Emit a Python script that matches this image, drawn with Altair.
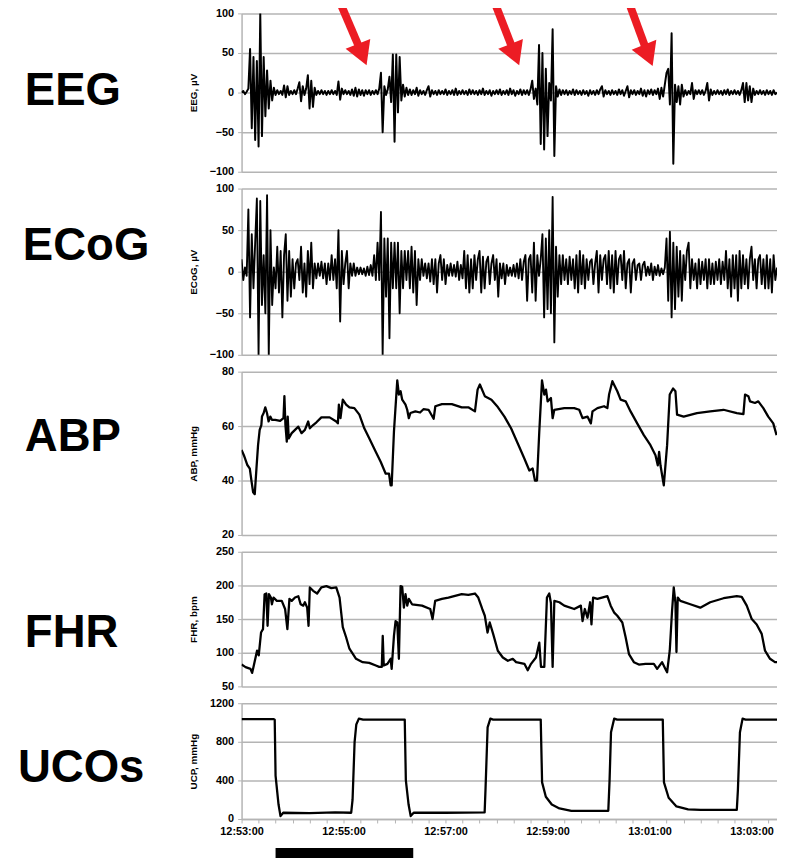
import altair as alt
import pandas as pd

# ---------------- data ----------------
# time axis: seconds after 12:53:00
X_DOMAIN = [0, 630]
STEP = 2  # EEG / ECoG read at 2-second intervals

eeg_values = [
    0, 2, -2, 1, 5, 55, -45, 45, -60, 40,
    -68, 100, -55, 45, -30, 28, -20, 15, -10, 6,
    -3, 3, -2, 2, -3, 9, -6, 8, -3, 2,
    -2, 3, -2, 5, 13, -11, 8, -3, 5, 22,
    -20, 15, -18, 6, -3, 2, -2, 3, -2, 2,
    -3, 2, -2, 3, -2, 2, -3, 14, -9, 5,
    -2, 3, -2, 2, -3, 4, -4, 6, -5, 4,
    -3, 3, -4, 3, -2, 3, -3, 2, -2, 3,
    -2, 5, 25, -50, 8, -3, 4, 20, -12, 48,
    -62, 48, -25, 45, -10, 10, -5, 6, -3, 4,
    -3, 3, -2, 6, -4, 3, -2, 2, -3, 3,
    8, -5, 3, -2, 2, -3, 3, -2, 2, -2,
    4, -3, 2, -2, 3, -3, 5, -3, 2, -2,
    3, -2, 2, -3, 4, -2, 3, -2, 2, -3,
    3, -2, 5, -3, 2, -2, 3, -4, 2, -2,
    3, -2, 4, -3, 2, -2, 3, -3, 5, -2,
    3, -4, 2, -2, 4, -3, 3, -2, 3, -3,
    4, 15, -8, 5, -15, 60, -65, 50, -72, 30,
    -55, 12, -10, 80, -80, 8, -5, 4, -3, 3,
    -2, 3, -3, 2, -2, 4, -3, 3, -2, 2,
    -3, 3, -2, 2, -4, 3, -2, 2, -3, 3,
    -2, 4, 8, -5, 3, -2, 2, -3, 3, -2,
    2, -3, 4, -2, 3, -4, 2, 8, -6, 3,
    -2, 3, -3, 2, -2, 5, -4, 3, -5, 3,
    -2, 4, -3, 3, -2, 5, -8, 6, -5, 10,
    25, 30, -15, 75, -90, 10, -12, 8, -15, 10,
    -5, 3, -3, 2, -2, 12, -8, 3, -2, 3,
    -2, 3, -3, 2, 12, -10, 4, -3, 2, -2,
    3, -2, 2, -3, 3, -2, 4, -3, 2, -2,
    3, -2, 2, -3, 3, 12, -12, 12, -10, 8,
    -12, 5, -3, 2, -2, 3, -2, 2, -3, 3,
    -2, 2, -3, 3, -2, 0,
]

ecog_values = [
    15, -10, 5, -5, 75, -55, 45, -20, 35, 88,
    -100, 85, -40, 20, -50, 92, -100, 50, -40, 5,
    -20, 30, -25, 25, -55, 20, 45, -35, 25, -30,
    15, -20, 10, 15, -10, 30, -25, 10, -30, 25,
    -15, 35, -20, 10, -8, 10, -5, 12, -8, 10,
    -15, 10, -10, 20, -10, 15, -20, 50, -60, 25,
    -15, 10, 25, -20, 10, -5, 10, -5, 5, -3,
    5, -3, 4, -5, 6, -4, 8, -5, 20, -10,
    35, -10, 72, -100, 40, -30, 40, -80, 35, -20,
    35, -20, 35, -50, 25, -20, 25, -10, 25, -20,
    30, -25, 25, -40, 15, -10, 15, -5, 10, -8,
    10, -12, 15, -15, 15, -25, 10, 20, -10, 15,
    -15, 8, -5, 10, -5, 8, -6, 12, -10, 8,
    -8, 25, -20, 20, -25, 15, -20, 20, -10, 15,
    25, -25, 18, -20, 12, 18, -15, 10, 20, -10,
    15, -30, 10, -8, 10, -15, 8, -5, 5, -5,
    8, -6, 10, -8, 15, -10, 12, 20, -35, 15,
    20, -25, 35, -35, 20, -5, 15, 45, -55, 40,
    -45, 50, -50, 90, -85, 30, -30, 20, -15, 20,
    -10, 15, -15, 18, -10, 15, -20, 20, -25, 25,
    -15, 20, -20, 15, -10, 12, 15, -15, 10, 25,
    -25, 20, -10, 15, 20, -15, 25, -20, 20, -25,
    25, -15, 15, 20, -10, 25, -20, 10, 15, -25,
    10, 15, -10, 8, 10, -10, 8, 12, -5, 6,
    -4, 10, -10, 6, -4, 8, -5, 4, -3, 5,
    40, -35, 48, -55, 35, -45, 30, -30, 25, -35,
    20, -10, 25, 35, -20, 15, -10, 10, -20, 15,
    -15, 12, -10, 15, -20, 15, -15, 10, -15, 12,
    -10, 15, -15, 12, -10, 25, -20, 15, -30, 20,
    -20, 20, -35, 25, -20, 20, -15, 15, -20, 15,
    30, -10, 15, -20, 15, 20, -15, 15, -20, 20,
    -20, 15, -25, 20, -10, 5,
]

abp_points = [
    (0, 51.2), (2.7, 49.3), (6.6, 45.8), (9.7, 44.4), (11.6, 40), (13.6, 35.7), (15.5, 35),
    (17.5, 44.4), (19.4, 53), (21.3, 58.6), (23.3, 60.4), (24, 63.5), (26, 64.8), (27.9, 66.9),
    (29.9, 64.8), (31.8, 61.7), (33.8, 63.5), (35.7, 62.3), (39.6, 62.3), (45.4, 61.9),
    (49.3, 62.9), (50.4, 71), (51.6, 60.4), (53.2, 54.3), (54.3, 63.5), (55.5, 55.5), (59, 57.4),
    (62.9, 58.6), (66.8, 59.8), (70.6, 57.4), (74.5, 58.6), (78.4, 61.7), (80.3, 59.2),
    (84.2, 60.4), (88.1, 61.4), (93.9, 63.2), (103.6, 63.2), (111.4, 61.7), (113.3, 61),
    (114.5, 67.9), (116.4, 62.9), (119.1, 69.7), (123, 67.9), (126.9, 66.9), (132.7, 66.6),
    (138.6, 64.2), (144.4, 59.2), (150.2, 55.5), (158, 50.5), (163.8, 46.8), (169.6, 42.5),
    (173.5, 42.5), (175.4, 38.2), (176.6, 38.2), (179.3, 58), (183.2, 76.8), (185.1, 71.6),
    (187.1, 72.8), (189, 69.7), (192.9, 67.9), (194.9, 66), (196.8, 62.9), (198.7, 64.8),
    (204.5, 65.4), (210, 65.0), (214, 66.2), (220, 66), (226, 62.7), (228, 67.3), (235.7, 68.1),
    (247.4, 68.1), (259, 66.9), (266.8, 66.9), (274.6, 65.4), (277.7, 73.4), (280.4, 75.3),
    (286.2, 71), (294, 69.7), (301.5, 67), (309.3, 63.5), (317.1, 59.2), (325, 53.6),
    (332.7, 48.1), (338.6, 43.7), (342.5, 44.4), (345.2, 40), (347.6, 40), (350.3, 58),
    (353.5, 76.8), (356.2, 71.6), (358.2, 73.4), (360.1, 69.1), (364, 70.3), (366, 62.9),
    (368, 66), (379.7, 66.6), (391.4, 66.6), (397.3, 66), (401.2, 62.9), (407, 63.5), (411, 61),
    (412.9, 65.4), (418.7, 66.6), (426.5, 67.3), (430.4, 66.6), (432.4, 71.6), (436.3, 76.5),
    (442.1, 72.8), (446, 69.7), (451.9, 69.1), (457.7, 65.4), (465.5, 61), (473.3, 56.7),
    (481.1, 53), (487, 49.3), (489.7, 45.6), (491.3, 50.5), (492.9, 45.6), (496.8, 38.2),
    (500.7, 53), (503.8, 71.6), (507.7, 73.8), (510.5, 72.8), (512.4, 64.2), (520.2, 63.5),
    (535.8, 64.8), (551.4, 65.4), (567.1, 66), (582.7, 64.8), (590.5, 64.4), (592.4, 71.6),
    (596.3, 71), (598.3, 69.1), (604.1, 68.5), (608, 69.1), (613.9, 66.6), (619.7, 63.5),
    (625.6, 61), (629.5, 56.7),
]

fhr_points = [
    (0, 82.5), (4.7, 78.6), (10.5, 76), (12.4, 70), (14.4, 81), (18.2, 103), (20.2, 96),
    (22.9, 130), (25.2, 135), (27.1, 187), (29.1, 188), (30.6, 140), (32.2, 187), (34.5, 182),
    (35.7, 172), (37.6, 182), (41.5, 177), (47.3, 177), (51.2, 165), (53.9, 135), (56.3, 180),
    (59, 177), (62.9, 182), (66.8, 184), (69.5, 172), (72.6, 170), (74.5, 175), (77.2, 167),
    (78.8, 140), (80.3, 197), (84.2, 192), (88.9, 188), (93.9, 197), (99.8, 199), (105.6, 196),
    (111.4, 197), (115.3, 182), (119.1, 138), (123, 123), (126.9, 106), (134.7, 91),
    (142.5, 86), (150.2, 85), (158, 81), (161.9, 79), (165, 79), (166.1, 125), (167.3, 81),
    (171.6, 83.5), (175.4, 91), (176.6, 76), (179.3, 125), (181.2, 147), (183.2, 145),
    (185.1, 91), (187.1, 199), (189, 198), (191, 167), (192.9, 187), (194.9, 170), (196.8, 180),
    (200.6, 172), (212.3, 170), (222, 165), (224.7, 150), (227.8, 177), (235.7, 180),
    (243.4, 182), (259, 187), (266.8, 186), (274.6, 188), (278.5, 182), (283.2, 165),
    (286.2, 155), (289.4, 130), (292, 145), (296, 128), (301.5, 103), (307.4, 93), (313.3, 88),
    (319.1, 91), (323, 86), (332.8, 83.5), (336.7, 74), (340.6, 83.5), (346.4, 93),
    (350.3, 115), (352.3, 79), (356.2, 79), (359.3, 182), (362, 188), (364, 174), (366, 79),
    (368, 177), (373.9, 175), (379.7, 170), (391.4, 165), (399.2, 170), (401.2, 147),
    (403.9, 165), (407, 152), (410.1, 175), (411.7, 142), (413.6, 182), (418.7, 180),
    (430.4, 184), (434.3, 170), (438.2, 160), (442.1, 155), (448, 145), (451.9, 123),
    (455.8, 98), (461.6, 86), (467.5, 82.5), (475.3, 83.5), (485.1, 83.5), (489, 76),
    (494.8, 86), (498.7, 76), (500.7, 71), (503.8, 103), (506.5, 162), (508.5, 197),
    (510.5, 174), (511.7, 101), (513.2, 182), (516.3, 177), (528, 172), (539.7, 167),
    (551.4, 175), (567.1, 181), (582.7, 184), (588.5, 183), (594.4, 170), (600.3, 150),
    (606.1, 142), (612, 128), (615.9, 103), (621.8, 91), (627.6, 86), (630, 86),
]

ucp_points = [
    (0, 1035), (38, 1035), (39, 1030), (40, 450), (43.5, 150), (45.8, 30), (49, 65), (80, 62),
    (110, 68), (129, 65), (130.6, 200), (133, 800), (135, 980), (138, 1040), (143, 1030),
    (192, 1030), (193.3, 400), (196.5, 150), (199, 30), (202.5, 65), (240, 65), (286, 68),
    (287, 300), (289.5, 950), (292.7, 1040), (296, 1030), (352, 1030), (353.6, 380), (358, 230),
    (365, 150), (374, 110), (388, 85), (431.5, 85), (433, 400), (434.7, 900), (438.4, 1040),
    (442, 1030), (495.6, 1030), (497, 380), (502.5, 220), (511.7, 130), (525.4, 100), (540, 95),
    (582.7, 95), (584, 300), (586.4, 900), (589.5, 1040), (593, 1030), (630, 1030),
]

# red arrows on the EEG panel: tail and arrow-head centre (t, µV)
arrow_tail_t = [115, 297, 455]
arrow_tail_v = [116, 116, 116]
arrow_head_t = [142, 321.6, 478.6]
arrow_head_v = [48, 48, 47]

# black bar under the time axis (occlusion period)
bar_start, bar_end = [40], [202]
bar_top, bar_bottom = [-300], [-405]

panel_labels = ["EEG", "ECoG", "ABP", "FHR", "UCOs"]
label_x = [-219, -221, -219, -219, -226]

# ---------------- chart ----------------
W = 541
GRID = "#b4b4b4"
RED = "#ec1c24"
FONT = "Liberation Sans"


def series_df(points):
    return pd.DataFrame(points, columns=["t", "v"])


def uniform_df(values):
    return pd.DataFrame({"t": [i * STEP for i in range(len(values))], "v": values})


XTICKS = list(range(0, 621, 20))
XLABEL = ("datum.value % 120 === 0 ? timeFormat(datetime(2000, 0, 1, 12, 53, datum.value), "
          "'%H:%M:%S') : ''")


def panel(df, domain, ticks, title, idx, height, label_y, width_line=2.3, bottom=False, extra=None):
    if bottom:
        xaxis = alt.Axis(values=XTICKS, tickCount=len(XTICKS), labelExpr=XLABEL, grid=False,
                         domainColor=GRID, domainWidth=1.5, tickColor=GRID, tickSize=4,
                         tickWidth=1, labelPadding=3, title=None, labelOverlap=False,
                         labelFlush=False)
    else:
        xaxis = None
    x = alt.X("t:Q", scale=alt.Scale(domain=X_DOMAIN, nice=False, zero=False), axis=xaxis)
    y = alt.Y("v:Q", scale=alt.Scale(domain=domain, nice=False, zero=False),
              axis=alt.Axis(values=ticks, tickCount=len(ticks), format="d", title=title,
                            titleX=-44, titleY=height / 2, labelOverlap=False,
                            grid=True, gridColor=GRID, gridWidth=1.5, domainColor=GRID,
                            domainWidth=1.5, tickColor=GRID, tickSize=4, labelPadding=4))
    line = alt.Chart(df).mark_line(color="black", strokeWidth=width_line, clip=True,
                                   strokeJoin="round").encode(x=x, y=y)
    txt = alt.Chart(pd.DataFrame({"label": [panel_labels[idx]]})).mark_text(
        align="left", baseline="middle", fontSize=46, fontWeight="bold", font=FONT,
        color="black").encode(x=alt.value(label_x[idx]), y=alt.value(label_y), text="label:N")
    layers = [line] + (extra or []) + [txt]
    return alt.layer(*layers).properties(width=W, height=height)


arrow_df = pd.DataFrame({"t0": arrow_tail_t, "v0": arrow_tail_v,
                         "t1": arrow_head_t, "v1": arrow_head_v})
shaft = alt.Chart(arrow_df).mark_rule(color=RED, strokeWidth=8, clip=False).encode(
    x="t0:Q", y="v0:Q", x2="t1:Q", y2="v1:Q")
head = alt.Chart(arrow_df).mark_point(shape="triangle-up", filled=True, size=720, angle=158,
                                      color=RED, opacity=1, clip=False).encode(
    x="t1:Q", y="v1:Q")

bar_df = pd.DataFrame({"a": bar_start, "b": bar_end, "c": bar_top, "d": bar_bottom})
bar = alt.Chart(bar_df).mark_rect(color="black", clip=False).encode(
    x="a:Q", x2="b:Q", y="c:Q", y2="d:Q")

eeg = panel(uniform_df(eeg_values), [-100, 100], [-100, -50, 0, 50, 100], "EEG, µV",
            0, 160, 79, width_line=2.0, extra=[shaft, head])
ecog = panel(uniform_df(ecog_values), [-100, 100], [-100, -50, 0, 50, 100], "ECoG, µV",
             1, 168, 58, width_line=1.9)
abp = panel(series_df(abp_points), [20, 80], [20, 40, 60, 80], "ABP, mmHg", 2, 165, 66)
fhr = panel(series_df(fhr_points), [50, 250], [50, 100, 150, 200, 250], "FHR, bpm", 3, 136, 82)
ucp = panel(series_df(ucp_points), [0, 1200], [0, 400, 800, 1200], "UCP, mmHg",
            4, 117, 66, bottom=True, extra=[bar])

chart = alt.vconcat(eeg, ecog, abp, fhr, ucp, spacing=6).resolve_scale(
    y="independent").properties(
    padding={"left": 10, "top": -16, "right": 0, "bottom": 0}
).configure_view(stroke=None).configure_axis(
    labelFont=FONT, labelFontWeight="bold", labelFontSize=11, labelColor="black",
    titleFont=FONT, titleFontWeight="bold", titleFontSize=10, titleColor="black"
)

chart.save("out.html", embed_options={"renderer": "svg", "actions": False})
